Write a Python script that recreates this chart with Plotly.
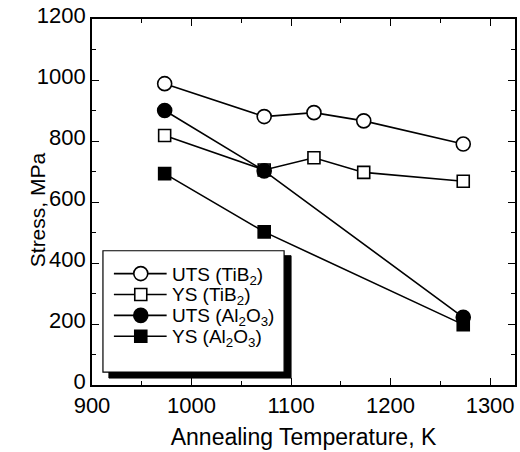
import plotly.graph_objects as go

temp_uts_tib2 = [973, 1073, 1123, 1173, 1273]
uts_tib2 = [988, 880, 893, 866, 790]
temp_ys_tib2 = [973, 1073, 1123, 1173, 1273]
ys_tib2 = [818, 705, 745, 697, 668]
temp_al2o3 = [973, 1073, 1273]
uts_al2o3 = [900, 702, 222]
ys_al2o3 = [693, 502, 198]

series_names = ["UTS (TiB<sub>2</sub>)", "YS (TiB<sub>2</sub>)",
                "UTS (Al<sub>2</sub>O<sub>3</sub>)", "YS (Al<sub>2</sub>O<sub>3</sub>)"]
x_ticks = [900, 1000, 1100, 1200, 1300]
y_ticks = [0, 200, 400, 600, 800, 1000, 1200]

FONT = "Liberation Sans, Arial, Helvetica, sans-serif"
lw = 1.6
styles = [
    dict(symbol="circle", size=14, fill="white", shape="circle"),
    dict(symbol="square", size=12, fill="white", shape="rect"),
    dict(symbol="circle", size=14, fill="black", shape="circle"),
    dict(symbol="square", size=12, fill="black", shape="rect"),
]
data = [(temp_uts_tib2, uts_tib2), (temp_ys_tib2, ys_tib2), (temp_al2o3, uts_al2o3), (temp_al2o3, ys_al2o3)]

fig = go.Figure()
for (xs, ys), name, st in zip(data, series_names, styles):
    fig.add_trace(go.Scatter(x=xs, y=ys, mode="lines+markers", name=name,
                             line=dict(color="black", width=lw),
                             marker=dict(symbol=st["symbol"], size=st["size"], color=st["fill"],
                                         line=dict(color="black", width=1.6))))

axis_common = dict(showgrid=False, zeroline=False, showline=True, linecolor="black", linewidth=1.6,
                   mirror="allticks", ticks="inside", ticklen=7, tickwidth=1.4, tickcolor="black",
                   tickfont=dict(family=FONT, size=22, color="black"))

fig.update_xaxes(range=[900, 1325], tickvals=x_ticks,
                 minor=dict(dtick=50, tick0=900, ticks="inside", ticklen=4, tickwidth=1.2, tickcolor="black"),
                 title=dict(text="Annealing Temperature, K", font=dict(family=FONT, size=23, color="black"), standoff=12),
                 **axis_common)
fig.update_yaxes(range=[0, 1200], tickvals=y_ticks, ticklabelshift=-4,
                 minor=dict(dtick=100, tick0=0, ticks="inside", ticklen=4, tickwidth=1.2, tickcolor="black"),
                 **axis_common)

# pixel helpers for the plot area (l=92, r=517, t=17, b=385)
def px(x):
    return (x - 92) / 425.0

def py(y):
    return (385 - y) / 368.0

# y-axis title
fig.add_annotation(text="Stress, MPa", xref="paper", yref="paper", x=px(38), y=py(209),
                   xanchor="center", yanchor="middle", textangle=-90, showarrow=False,
                   font=dict(family=FONT, size=21, color="black"))

# legend box with drop shadow
fig.add_shape(type="rect", xref="paper", yref="paper", x0=px(109), x1=px(292), y0=py(378), y1=py(255),
              fillcolor="black", line=dict(color="black", width=1), layer="above")
fig.add_shape(type="rect", xref="paper", yref="paper", x0=px(103), x1=px(285), y0=py(372), y1=py(250),
              fillcolor="white", line=dict(color="black", width=1.2), layer="above")

rows = [273, 294, 315, 336]
for row, name, st in zip(rows, series_names, styles):
    fig.add_shape(type="line", xref="paper", yref="paper", x0=px(114), x1=px(167), y0=py(row), y1=py(row),
                  line=dict(color="black", width=1.6), layer="above")
    h = st["size"] / 2.0
    fig.add_shape(type=st["shape"], xref="paper", yref="paper", xsizemode="pixel", ysizemode="pixel",
                  xanchor=px(141), yanchor=py(row), x0=-h, x1=h, y0=-h, y1=h,
                  fillcolor=st["fill"], line=dict(color="black", width=1.6), layer="above")
    fig.add_annotation(text=name, xref="paper", yref="paper", x=px(170), y=py(row + 2),
                       xanchor="left", yanchor="middle", showarrow=False,
                       font=dict(family=FONT, size=19, color="black"))

fig.update_layout(
    width=520, height=452,
    margin=dict(l=92, r=3, t=17, b=67),
    paper_bgcolor="white", plot_bgcolor="white",
    font=dict(family=FONT, color="black"),
    showlegend=False,
)

fig.write_html("out.html")
